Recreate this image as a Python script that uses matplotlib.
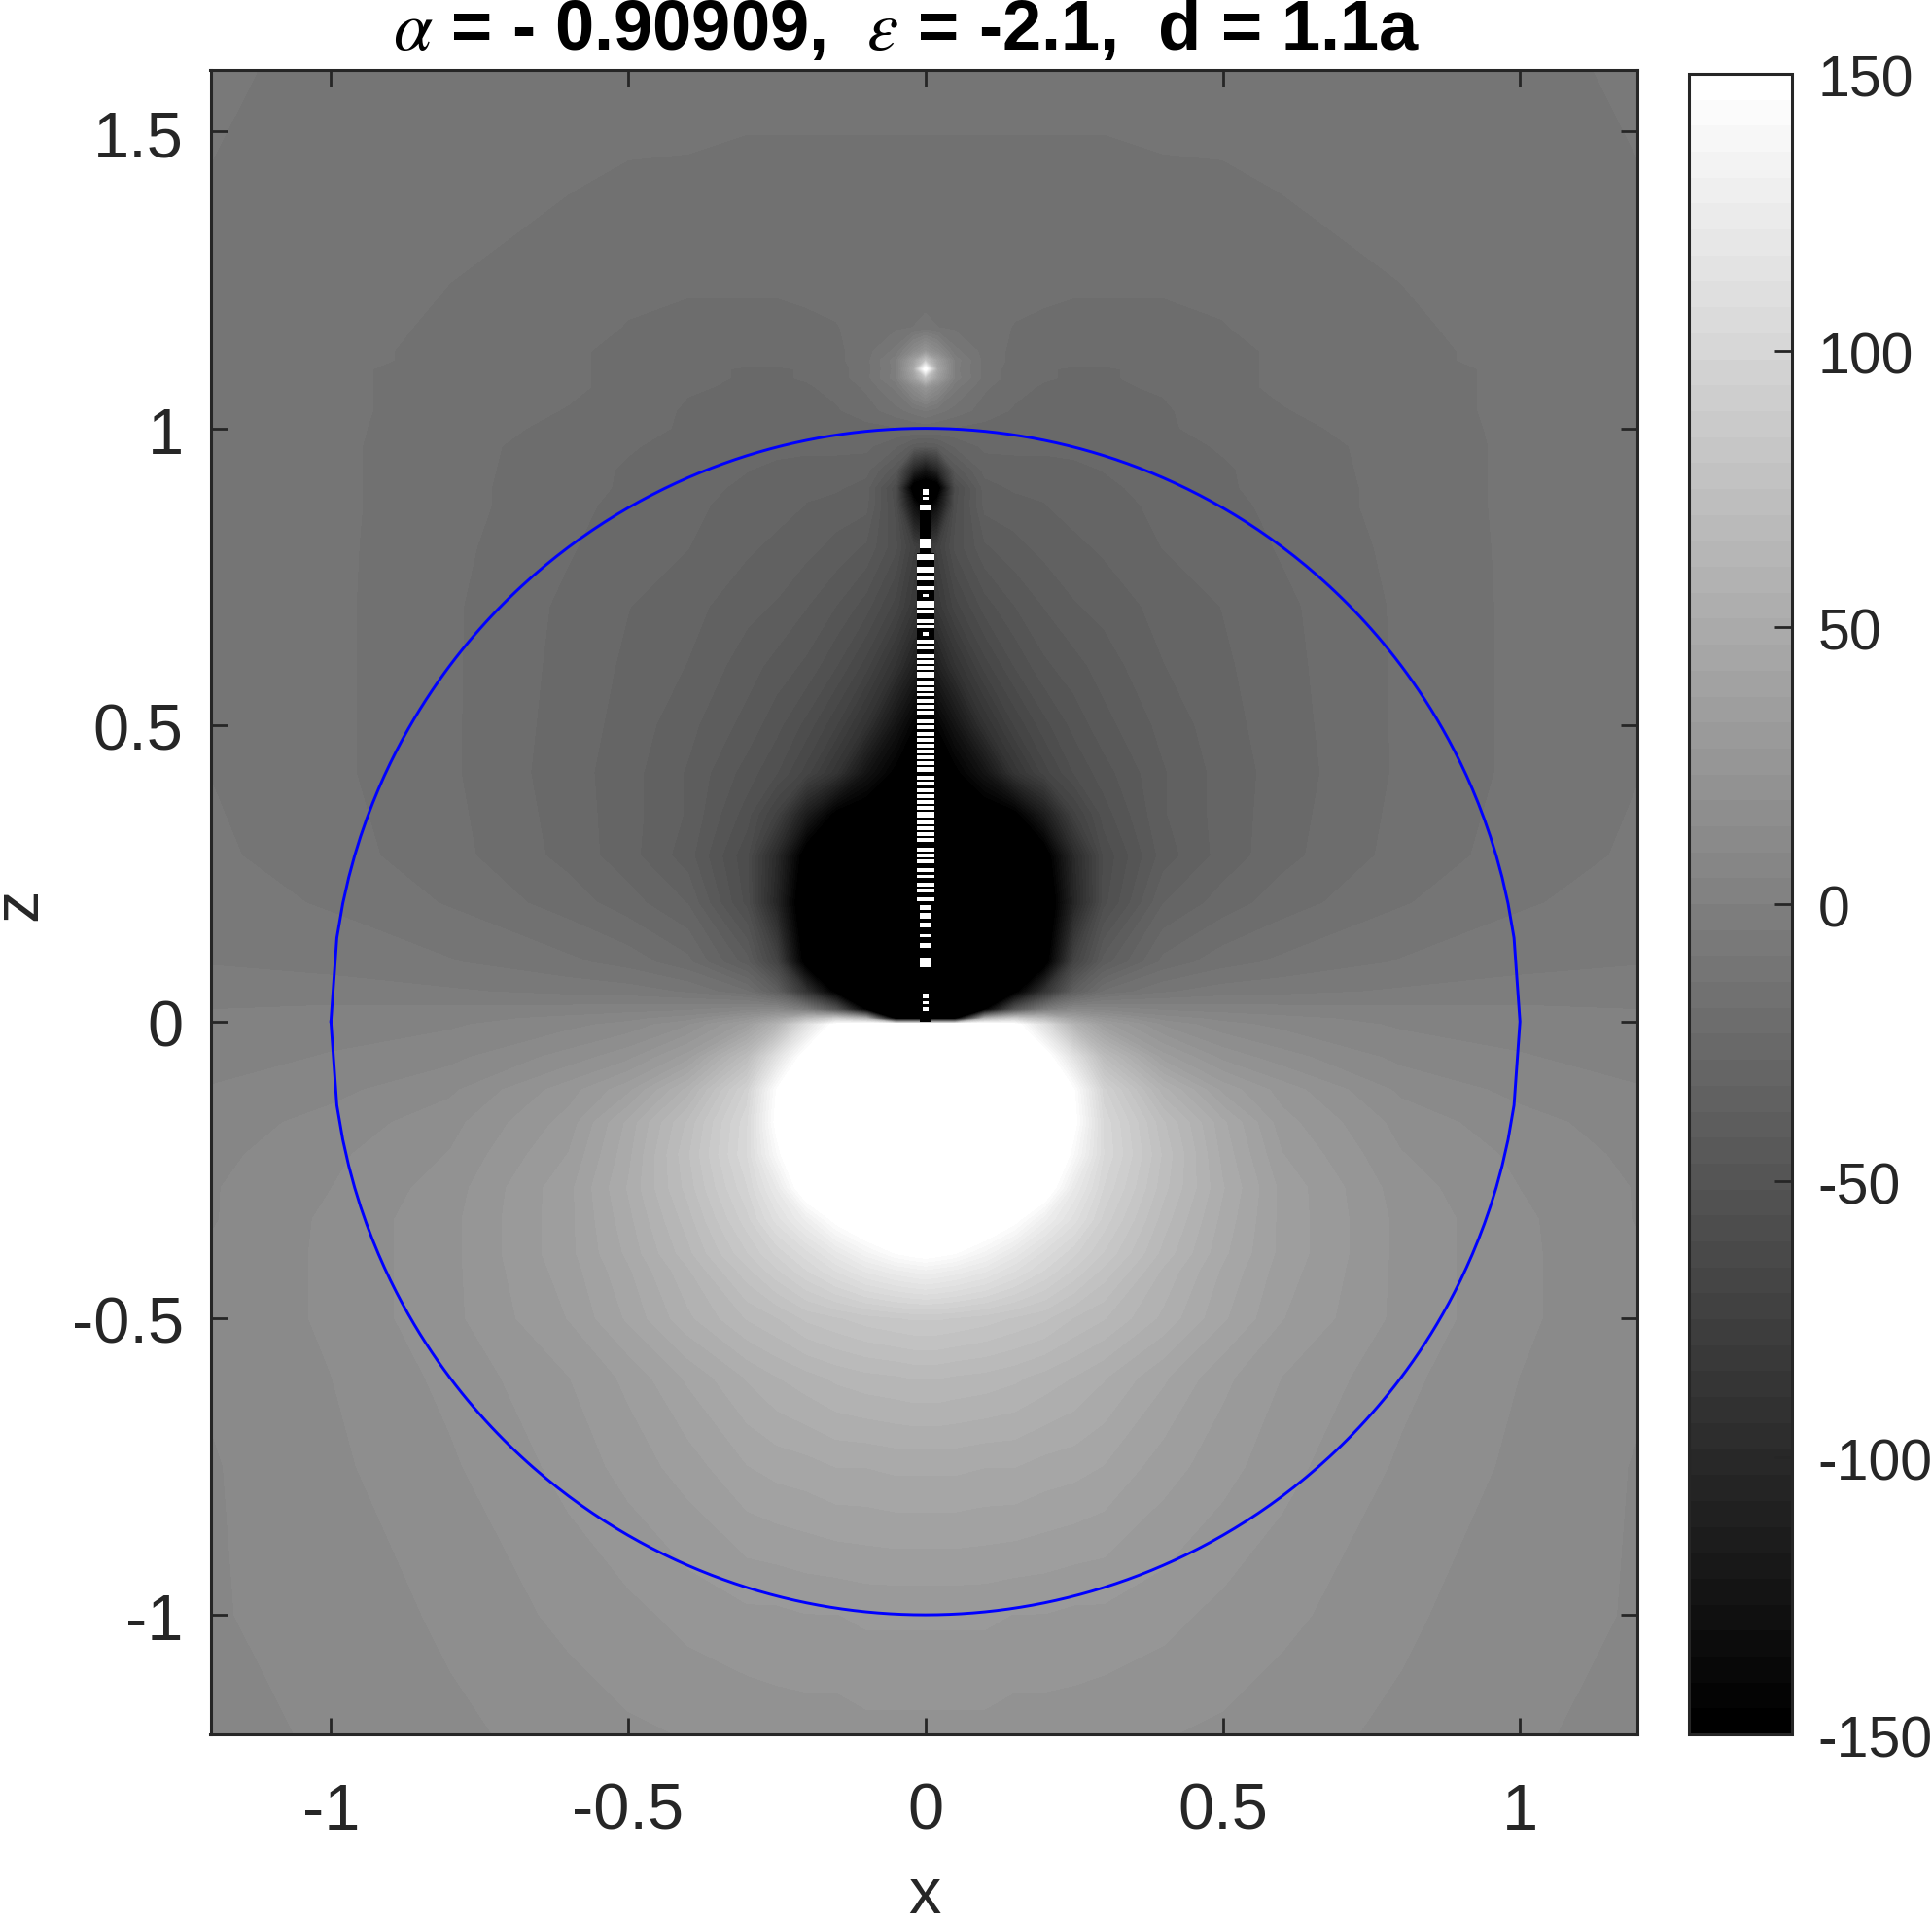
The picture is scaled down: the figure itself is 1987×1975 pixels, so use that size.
import numpy as np
import matplotlib
matplotlib.use("Agg")
import matplotlib.pyplot as plt
from matplotlib.colors import ListedColormap, BoundaryNorm
from matplotlib.transforms import ScaledTranslation

plt.rcParams['font.family'] = ['Liberation Sans', 'DejaVu Sans']
plt.rcParams['axes.unicode_minus'] = False
plt.rcParams['mathtext.fontset'] = 'stix'

TITLE = r"$\alpha$ = - 0.90909,  $\epsilon$ = -2.1,  d = 1.1a"
x_ticks = [-1, -0.5, 0, 0.5, 1]
z_ticks = [-1, -0.5, 0, 0.5, 1, 1.5]
c_ticks = [-150, -100, -50, 0, 50, 100, 150]

x_half = [0, .02, .05, .1, .15, .2, .25, .3, .4, .5, .6, .8, 1.0, 1.2]
z_rows = [-1.2, -1, -.75, -.6, -.5, -.42, -.39, -.333, -.28, -.224, -.17, -.115, -.06, -.005,
          .005, .02, .05, .1, .2, .28, .35, .42, .5, .6, .7, .8, .87, .9, .93, .97, 1.0, 1.03,
          1.07, 1.085, 1.1, 1.115, 1.13, 1.17, 1.25, 1.4, 1.6]
field_rows = [
 [22,22,22,22,21,21,21,20,19,18,16,13,10,8],
 [29,29,29,29,28,28,27,27,25,22,20,15,11,9],
 [48,48,48,47,47,45,44,42,35,30,25,18,13,9],
 [66,66,65,64,62,59,56,52,43,34,28,20,14,10],
 [85,85,84,82,79,76,70,66,55,43,33,22,15,10],
 [130,128,125,118,108,98,88,78,60,46,35,22,15,10],
 [152,150,146,134,120,106,95,84,64,48,36,22,15,10],
 [190,185,180,165,150,128,110,92,68,50,36,22,15,9],
 [200,200,200,195,180,160,122,98,72,52,36,21,14,9],
 [200,200,200,200,200,178,140,103,74,50,33,19,13,8],
 [200,200,200,200,200,188,150,102,71,48,30,17,11,7],
 [200,200,200,200,200,178,146,95,58,36,26,13,8,5],
 [200,200,200,200,190,158,112,70,35,22,16,8,5,3],
 [200,200,200,170,155,110,60,35,18,11,8,4,3,1],
 [-160,-160,-160,60,90,70,40,25,12,8,6,3,2,1],
 [-160,-160,-160,-150,-50,-5,10,8,4,3,2,1,1,0],
 [-160,-160,-160,-160,-155,-90,-37,-18,-10,-7,-6,-4,-3,-2],
 [-160,-160,-160,-160,-165,-160,-70,-40,-22,-16,-13,-9,-6,-5],
 [-160,-160,-160,-160,-170,-175,-105,-58,-33,-26,-21,-14.5,-10,-7],
 [-160,-160,-160,-160,-170,-160,-100,-60,-40,-31,-25,-17,-12,-8.5],
 [-160,-160,-160,-160,-152,-115,-72,-54,-38,-31,-25.5,-17.5,-12.5,-9],
 [-155,-155,-150,-125,-88,-68,-56,-49,-38,-31,-26,-18,-13,-9.5],
 [-150,-145,-125,-90,-70,-58,-50,-44,-36,-30,-25.5,-18,-13,-10],
 [-120,-110,-90,-68,-56,-48,-44,-40,-33,-29,-25,-18,-13,-10],
 [-90,-84,-68,-54,-47,-42,-38,-36,-31,-28,-24.5,-18,-13,-10],
 [-80,-74,-55,-43,-39,-36,-34,-32,-28,-26,-23,-17.5,-13,-10],
 [-160,-130,-58,-36,-35,-33,-31,-30,-27,-25,-22,-17,-13,-10],
 [-170,-165,-60,-35,-32,-32,-30,-29,-26.5,-24,-22,-17,-13,-10],
 [-125,-105,-46,-31,-30,-30,-29,-28,-26,-24,-21.5,-17,-13,-10],
 [-42,-40,-32,-27,-27,-27,-27,-26,-25,-23,-21,-17,-13,-10],
 [-22,-23,-24,-25,-25,-26,-26,-26,-24,-22,-20,-16.5,-13,-10],
 [-9,-12,-16,-21,-24,-25,-25,-25,-24,-21,-19,-16,-13,-10],
 [25,12,-8,-18,-22,-24,-25,-24,-23,-20,-18,-16,-13,-10],
 [76,35,-2,-16,-21,-23,-24,-24,-22,-20,-18,-16,-13,-10],
 [158,45,-3,-16,-21,-23,-24,-24,-22,-20,-18,-16,-13,-10],
 [76,35,-2,-16,-20,-22,-22,-22,-21,-20,-18,-15,-13,-10],
 [25,12,-8,-16,-20,-22,-22,-22,-21,-20,-18,-15,-13,-10],
 [-13,-14,-15,-17,-19,-20,-20,-20,-20,-19,-17,-15,-12,-10],
 [-16.5,-16.5,-16.5,-16.5,-17,-17,-18,-18,-18,-17.5,-16,-14,-12,-10],
 [-15.5,-15.5,-15.5,-15.5,-15.5,-15.5,-15.5,-15.5,-15,-14.8,-14,-12.5,-11,-9.5],
 [-12.5,-12.5,-12.5,-12.5,-12.5,-12.5,-12.5,-12.5,-12,-12,-11.5,-11,-10,-9],
]

# numerical artefact along the axis: z centre of each white stripe, with half width and thickness
stripe_z = [.893,.882,.867,.806,.783,.762,.748,.731,.7185,.704,.691,.675,.666,.654,.641,.631,
            .616,.606,.596,.585,.570,.560,.551,.540,.531,.521,.506,.496,.485,.475,.465,.455,
            .445,.436,.425,.411,.401,.390,.380,.370,.360,.349,.336,.326,.316,.306,.290,.280,
            .270,.255,.245,.231,.221,.206,.192,.178,.163,.145,.128,.100,.043,.031,.021]
stripe_hw = [.005,.005,.01,.01,.0147,.0147,.0147,.0147,.005,.0147,.0147,.0147,.0147,.005,.0147,.0147,
             .0147,.0147,.0147,.0147,.0147,.0147,.0147,.0147,.0147,.0147,.0147,.0147,.0147,.0147,.0147,.0147,
             .0147,.0147,.0147,.0147,.0147,.0147,.0147,.0147,.0147,.0147,.0147,.0147,.0147,.0147,.0147,.0147,
             .0147,.0147,.0147,.0147,.0147,.0147,.01,.01,.01,.01,.01,.01,.005,.005,.005]
stripe_h = [.01,.005,.01,.015,.011,.01,.008,.006,.006,.012,.006,.006,.006,.006,.006,.006,
            .006,.006,.006,.009,.006,.006,.006,.006,.006,.006,.006,.006,.006,.006,.006,.006,
            .006,.006,.009,.006,.006,.006,.006,.006,.006,.009,.006,.006,.006,.006,.006,.006,
            .006,.006,.006,.006,.006,.006,.009,.009,.009,.005,.009,.016,.009,.005,.006]
core_top = [.867, .79]
core_bottom = [0, .205]
core_hw = [.01, .0147]

# blue outline, sampled on the source's coarse 0.01 x grid
circle_x = np.arange(-100, 101) / 100

X = np.array([-v for v in x_half[:0:-1]] + x_half)
F = np.array(field_rows, float)
F = np.hstack([F[:, :0:-1], F])
Z = np.array(z_rows)

fig = plt.figure(figsize=(19.87, 19.75), dpi=100)
W, H = 1987, 1975
ax = fig.add_axes([216.5/W, (H-1784)/H, 1467.5/W, 1712/H])
cax = fig.add_axes([1737/W, (H-1784)/H, 106/W, 1708/H])

ink = '#262626'
cmap = ListedColormap([(i/63, i/63, i/63) for i in range(64)])
levels = np.linspace(-150, 150, 65)
norm = BoundaryNorm(levels, 64)
cs = ax.contourf(X, Z, F, levels=levels, cmap=cmap, norm=norm, extend='both')
cs.cmap.set_under('black'); cs.cmap.set_over('white')

for top, bot, hw in zip(core_top, core_bottom, core_hw):
    ax.barh((top+bot)/2, 2*hw, height=top-bot, left=-hw, color='black', linewidth=0)
for z, hw, h in zip(stripe_z, stripe_hw, stripe_h):
    ax.barh(z, 2*hw, height=h, left=-hw, color='white', linewidth=0)

cz = np.sqrt(np.clip(1 - circle_x**2, 0, None))
ax.plot(np.r_[circle_x, circle_x[::-1]], np.r_[cz, -cz[::-1]], color=(0, 0, 1), lw=2.1)

ax.set_xlim(-1.2025, 1.1975)
ax.set_ylim(-1.2014, 1.604)
ax.set_xticks(x_ticks)
ax.set_xticklabels([f'{v:g}' for v in x_ticks])
ax.set_yticks(z_ticks)
ax.set_yticklabels([f'{v:g}' for v in z_ticks])
ax.tick_params(axis='x', direction='in', top=True, length=12, width=2, color=ink, labelcolor=ink, labelsize=48, pad=36)
ax.tick_params(axis='y', direction='in', right=True, length=12, width=2, color=ink, labelcolor=ink, labelsize=48, pad=20)
for s in ax.spines.values():
    s.set_linewidth(2.2); s.set_color(ink)
down = ScaledTranslation(0, -2/100, fig.dpi_scale_trans)
for lab in ax.get_yticklabels():
    lab.set_transform(lab.get_transform() + down)

sm = plt.cm.ScalarMappable(norm=norm, cmap=cmap)
cb = fig.colorbar(sm, cax=cax, ticks=c_ticks, spacing='proportional', drawedges=False)
cb.ax.set_yticklabels([f'{v:d}' for v in c_ticks])
cb.ax.tick_params(direction='in', length=13, width=2, color=ink, labelcolor=ink, labelsize=42.5, pad=19, which='major')
cb.ax.minorticks_off()
cb.outline.set_linewidth(2.2); cb.outline.set_edgecolor(ink)
down2 = ScaledTranslation(0, -2/100, fig.dpi_scale_trans)
for lab in cb.ax.get_yticklabels():
    lab.set_transform(lab.get_transform() + down2)

fig.text(932/W, 1-32/H, TITLE, fontsize=52, fontweight='bold', color='black', ha='center', va='center')
fig.text(951/W, 1-1968/H, 'x', fontsize=48, color=ink, ha='center', va='baseline')
fig.text(20/W, 1-930/H, 'z', fontsize=48, color=ink, rotation=90, ha='center', va='center')

fig.savefig('out.png', dpi=100)
